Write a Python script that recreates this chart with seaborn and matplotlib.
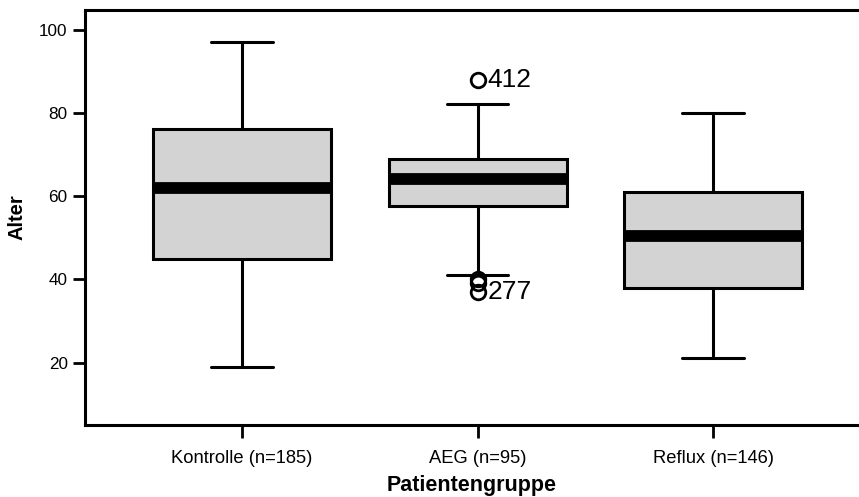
import matplotlib
matplotlib.use("Agg")
import matplotlib.pyplot as plt
import seaborn as sns
import pandas as pd

groups = ["Kontrolle (n=185)", "AEG (n=95)", "Reflux (n=146)"]
kontrolle = [19, 45, 62, 76, 97]
aeg = [37, 39, 40, 41, 57.5, 57.5, 57.5, 57.5, 64, 69, 69, 69, 69, 69, 69, 82, 88]
reflux = [21, 38, 50.5, 61, 80]
outlier_labels = [("AEG (n=95)", 88, "412"), ("AEG (n=95)", 37, "277")]

rows = []
for g, vals in zip(groups, [kontrolle, aeg, reflux]):
    for v in vals:
        rows.append({"Patientengruppe": g, "Alter": v})
df = pd.DataFrame(rows)

sns.set_style("white")
plt.rcParams["font.family"] = ["Liberation Sans", "DejaVu Sans"]
plt.rcParams["text.color"] = "black"
plt.rcParams["axes.labelcolor"] = "black"
plt.rcParams["xtick.color"] = "black"
plt.rcParams["ytick.color"] = "black"

fig = plt.figure(figsize=(8.59, 4.97), dpi=100)
ax = fig.add_axes([85/859, 72/497, 774/859, 415/497])

lw = 2.2
sns.boxplot(data=df, x="Patientengruppe", y="Alter", order=groups, ax=ax,
            width=0.756, color="#d3d3d3", linewidth=lw, linecolor="black",
            boxprops=dict(facecolor="#d3d3d3", edgecolor="black", linewidth=lw),
            whiskerprops=dict(color="black", linewidth=lw),
            capprops=dict(color="black", linewidth=lw),
            medianprops=dict(color="black", linewidth=8.5, solid_capstyle="butt"),
            flierprops=dict(marker="o", markerfacecolor="none", markeredgecolor="black",
                            markersize=10.5, markeredgewidth=2),
            capwidths=0.26)

for g, v, lab in outlier_labels:
    xi = groups.index(g)
    ax.text(xi + 0.043, v, lab, fontsize=19, ha="left", va="center", color="black")

ax.set_xlim(-0.667, 2.62)
ax.set_ylim(5, 104.7)
ax.set_yticks([20, 40, 60, 80, 100])
ax.set_xlabel("Patientengruppe", fontsize=15.5, fontweight="bold", labelpad=6)
ax.set_ylabel("Alter", fontsize=14.5, fontweight="bold", labelpad=9)
ax.tick_params(axis="both", which="both", direction="out", length=9, width=2,
               color="black", labelcolor="black", labelsize=12.3, left=True, bottom=True)
ax.tick_params(axis="x", labelsize=13.2, pad=9)
for side in ["left", "bottom", "top"]:
    ax.spines[side].set_visible(True)
    ax.spines[side].set_linewidth(2.2)
    ax.spines[side].set_color("black")
ax.spines["right"].set_visible(False)

fig.savefig("out.png", dpi=100)
